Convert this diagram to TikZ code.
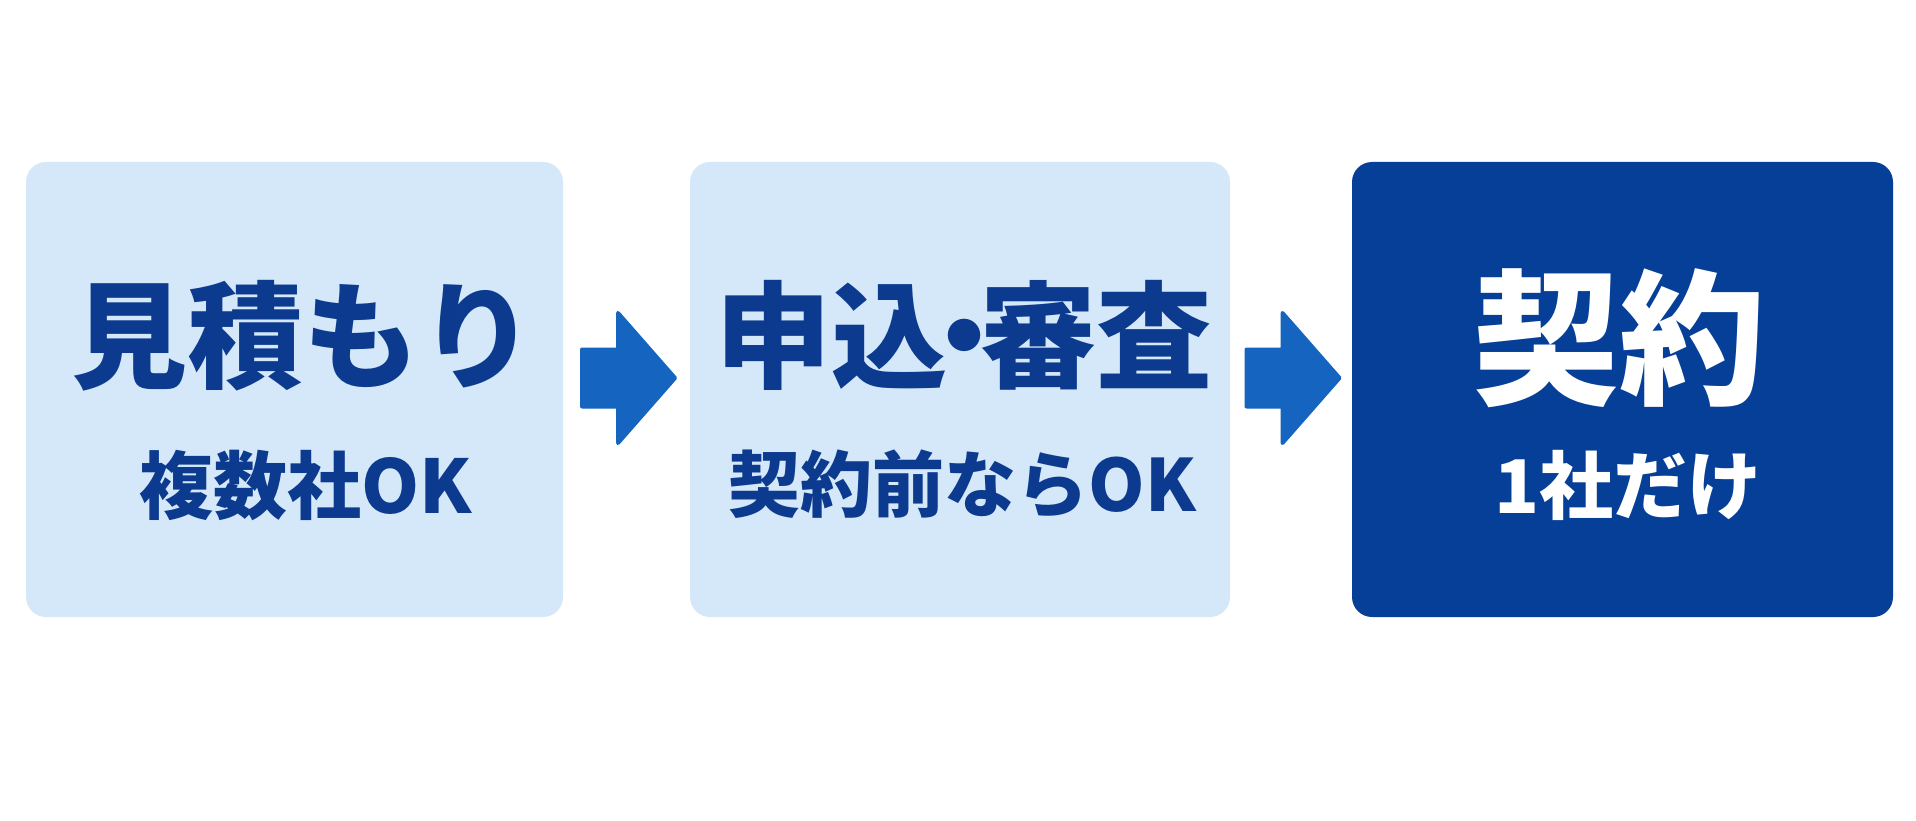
\documentclass[tikz,border=0pt]{standalone}
\usepackage{fontspec}
\usepackage{tikz}
\usetikzlibrary{calc}
\newfontfamily\jpfont{Noto Sans CJK JP Black}
\definecolor{boxlight}{HTML}{D5E8FA}
\definecolor{boxdark}{HTML}{063F98}
\definecolor{textnavy}{HTML}{0B3A8E}
\definecolor{arrowblue}{HTML}{1464C0}
\tikzset{
  arrowpaint/.style={fill=arrowblue, draw=arrowblue, line width=4pt, line join=round},
  pics/flowarrow/.style={code={
    \filldraw[arrowpaint] (-44.5,-40) -- (-8.5,-40) -- (-8.5,-76.5) -- (48.5,-11.5)
      -- (-8.5,53.5) -- (-8.5,17) -- (-44.5,17) -- cycle;
  }}
}

\begin{document}
\begin{tikzpicture}[x=1pt,y=-1pt,
    stepbox/.style={rounded corners=20pt, minimum width=537pt, minimum height=455pt, inner sep=0pt},
    maintext/.style={font=\jpfont\fontsize{116}{116}\selectfont, inner sep=0pt},
    bigtext/.style={font=\jpfont\fontsize{146}{146}\selectfont, inner sep=0pt},
    subtext/.style={font=\jpfont\fontsize{74}{74}\selectfont, inner sep=0pt}]
			
			\useasboundingbox (0,0) rectangle (1916,821);
			\fill[white] (0,0) rectangle (1916,821);
			
			% the three steps
			\node[stepbox, fill=boxlight] (quote) at (294.5,389.5) {};
			\node[stepbox, fill=boxlight, minimum width=540pt] (apply) at (960,389.5) {};
			\node[stepbox, fill=boxdark, minimum width=541pt] (contract) at (1622.5,389.5) {};
			
			\node[maintext, text=textnavy] (quotetitle) at (303,336) {見積もり};
			\node[subtext, text=textnavy] (quotenote) at (306,485) {複数社OK};
			
			\node[maintext, text=textnavy] (applytitle) at (964,335.5) {申込\kern-0.36em・\kern-0.36em審査};
			\node[subtext, text=textnavy, font=\jpfont\fontsize{72}{72}\selectfont] (applynote) at (962.5,484) {契約前ならOK};
			
			\node[bigtext, text=white] (contracttitle) at (1619.5,338.5) {契約};
			\node[subtext, text=white] (contractnote) at (1628,485) {1社だけ};
			
			% arrows in the gaps
			\coordinate (gap1) at ($(quote.east)!0.5!(apply.west)$);
			\coordinate (gap2) at ($(apply.east)!0.5!(contract.west)$);
			\pic at (gap1) {flowarrow};
			\pic at (gap2) {flowarrow};
			
		\end{tikzpicture}
\end{document}
